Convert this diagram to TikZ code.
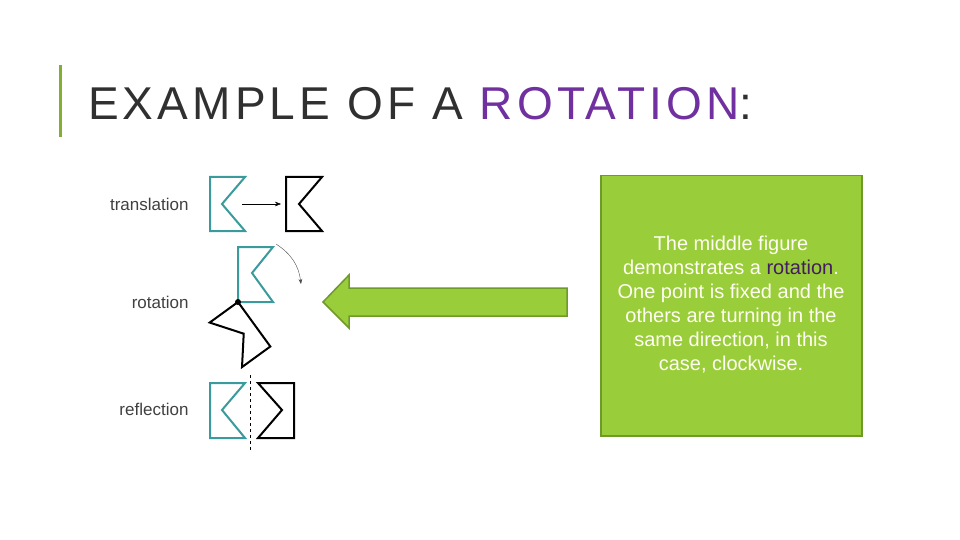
\documentclass[tikz,border=0pt]{standalone}
\usepackage{fontspec}
\setmainfont{Liberation Sans}
\usetikzlibrary{arrows.meta}
\definecolor{teal1}{HTML}{3A9A9C}
\definecolor{purp}{HTML}{7030A0}
\definecolor{leaf}{HTML}{9ACD3A}
\definecolor{leafdark}{HTML}{6E9A2A}
\definecolor{titlegray}{HTML}{303030}
\tikzset{
  lbl/.style={anchor=east, font=\fontsize{17}{20}\selectfont, text=black!75},
  tealshape/.style={draw=teal1, line width=2pt, line join=miter},
  blackshape/.style={draw=black, line width=2pt, line join=miter},
}
\begin{document}
\begin{tikzpicture}[x=1pt,y=-1pt]
    \useasboundingbox (0,0) rectangle (960,540);

    % title
    \fill[leaf!85!black] (58.5,65) rectangle (61.5,137);
    \node[anchor=base west, inner sep=0, text=titlegray,
          font=\fontsize{46}{52}\selectfont\addfontfeature{LetterSpace=9}] (title) at (88,120)
          {EXAMPLE OF A \textcolor{purp}{ROTATION}:};

    % labels
    \node[lbl] (ltrans) at (192,204) {translation};
    \node[lbl] (lrot) at (192,302) {rotation};
    \node[lbl] (lrefl) at (192,409) {reflection};

    % translation
    \draw[tealshape] (210,177) -- (245,177) -- (222,204) -- (245,231) -- (210,231) -- cycle;
    \draw[blackshape] (286,177) -- (322,177) -- (299,204) -- (322,231) -- (286,231) -- cycle;
    \coordinate (ta) at (242,204);
    \coordinate (tb) at (281,204);
    \draw[-{Stealth[length=6pt]}, thin] (ta) -- (tb);

    % rotation
    \coordinate (pivot) at (238,302);
    \draw[tealshape] (pivot) -- (238,247) -- (273,247) -- (252,273) -- (273,302) -- cycle;
    \draw[blackshape, rotate around={-144:(pivot)}]
        (pivot) -- (238,247) -- (273,247) -- (252,273) -- (273,302) -- cycle;
    \fill (pivot) circle (3);
    \coordinate (ra) at (276,244);
    \coordinate (rb) at (301,284);
    \draw[-{Stealth[length=5pt]}, black!70, thin] (ra) to[bend left=25] (rb);

    % reflection
    \draw[tealshape] (210,383) -- (245,383) -- (222,410) -- (245,438) -- (210,438) -- cycle;
    \draw[blackshape] (294,383) -- (258,383) -- (282,410) -- (258,438) -- (294,438) -- cycle;
    \coordinate (ma) at (250,375);
    \coordinate (mb) at (250,451);
    \draw[dashed, thin] (ma) -- (mb);

    % big arrow
    \draw[fill=leaf, draw=leafdark, line width=1.5pt, line join=miter]
        (323,302) -- (349,275) -- (349,288) -- (567,288) -- (567,316) -- (349,316) -- (349,328) -- cycle;

    % text box
    \node[draw=leafdark, fill=leaf, line width=1.5pt, minimum width=261pt, minimum height=260pt,
          anchor=north west] (box) at (600,175) {};
    \node[align=center, text=white!95!yellow, font=\fontsize{20}{24}\selectfont] (boxtext) at (731,305)
        {The middle figure\\
         demonstrates a \textcolor{purp!60!black}{rotation}.\\
         One point is fixed and the\\
         others are turning in the\\
         same direction, in this\\
         case, clockwise.};
\end{tikzpicture}
\end{document}
